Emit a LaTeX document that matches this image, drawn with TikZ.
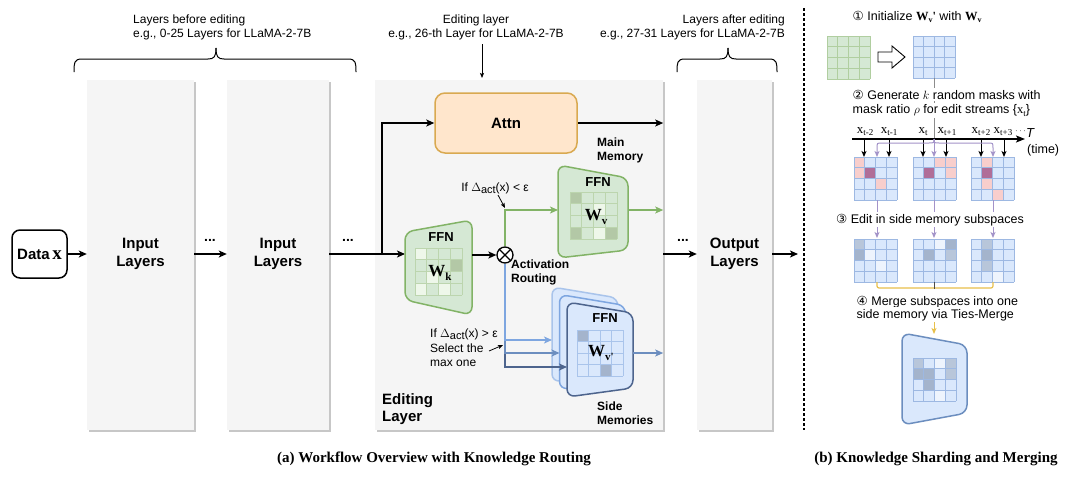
\documentclass[tikz,border=0pt]{standalone}
\usepackage{fontspec}
\setmainfont{Liberation Sans}
\newfontfamily\lserif{Liberation Serif}
\newfontfamily\dvs{DejaVu Sans}
\usetikzlibrary{arrows.meta,calc,shadows}

\definecolor{grfill}{HTML}{D5E8D4}
\definecolor{grline}{HTML}{82B366}
\definecolor{grgrid}{HTML}{BCD5AE}
\definecolor{blfill}{HTML}{DAE8FC}
\definecolor{blline}{HTML}{6C8EBF}
\definecolor{bllight}{HTML}{A9C4EB}
\definecolor{blmid}{HTML}{7EA6E0}
\definecolor{bldark}{HTML}{4D648D}
\definecolor{blgrid}{HTML}{9DB8E2}
\definecolor{orfill}{HTML}{FFE6CC}
\definecolor{orline}{HTML}{D9A950}
\definecolor{layfill}{HTML}{F5F5F5}
\definecolor{pinkc}{HTML}{F8CECC}
\definecolor{mauve}{HTML}{B06E98}
\definecolor{purp}{HTML}{A393C9}
\definecolor{yel}{HTML}{E8C04A}
\definecolor{gb1}{HTML}{A4B4CC}
\definecolor{gb2}{HTML}{B8C6DA}
\definecolor{gbw}{HTML}{EEF4FD}
\definecolor{gk1}{HTML}{B3C8A6}
\definecolor{gkw}{HTML}{EEF7EA}

\newcommand{\fs}[2]{\fontsize{#1}{#2}\selectfont}
\newcommand{\Wb}[2]{{\lserif\bfseries\fontsize{#1}{#1}\selectfont W\raisebox{-0.2em}{\fontsize{#2}{#2}\selectfont v}}}
\newcommand{\tsub}[1]{\raisebox{-2.5pt}{\fontsize{9}{9}\selectfont #1}}
% grid: x, y, size, base, line colour, cells c/r/colour
\newcommand{\mgrid}[6]{%
  \fill[#4] (#1,#2) rectangle ++(#3,#3);
  \foreach \cc/\rr/\cl in {#6}{%
    \fill[\cl] ({#1+\cc*#3/4},{#2+\rr*#3/4}) rectangle ++({#3/4},{#3/4});}
  \foreach \k in {0,...,4}{%
    \draw[#5, line width=0.7pt] ({#1+\k*#3/4},#2) -- ++(0,#3);
    \draw[#5, line width=0.7pt] (#1,{#2+\k*#3/4}) -- ++(#3,0);}
}
% trapezoid: style, TL, TR, BR, BL
\newcommand{\trapez}[5]{%
  \draw[#1] ($(#2)!0.5!(#5)$) -- (#5) -- (#4) -- (#3) -- (#2) -- cycle;}
% brace: left x, right x, tip x
\newcommand{\mybrace}[3]{%
  \draw[line width=1pt] (#1,72) .. controls (#1,63) and (#1,59) .. ({#1+8},59) -- ({#3-8},59) .. controls ({#3-2},59) and (#3,57) .. (#3,48);
  \draw[line width=1pt] (#2,72) .. controls (#2,63) and (#2,59) .. ({#2-8},59) -- ({#3+8},59) .. controls ({#3+2},59) and (#3,57) .. (#3,48);}

\tikzset{
  layerbox/.style={fill=layfill, inner sep=0, drop shadow={shadow xshift=1.6pt, shadow yshift=-1.6pt, fill=black!22, opacity=1}},
  arr/.style={line width=1.5pt, -{Stealth[length=8pt,width=7pt,inset=2pt]}},
  sarr/.style={line width=0.8pt, -{Stealth[length=5pt,width=4pt,inset=1pt]}},
  marr/.style={line width=1pt, -{Stealth[length=6pt,width=5pt,inset=1.5pt]}},
  toptxt/.style={inner sep=0, font=\fs{12}{14}},
  bigtxt/.style={inner sep=0, align=center, font=\fs{15}{18}\bfseries},
  lbl/.style={inner sep=0, align=left, font=\fs{12}{14}\bfseries},
  notetxt/.style={inner sep=0, align=left, font=\fs{12}{14.5}},
  rtxt/.style={inner sep=1.5pt, fill=white, font=\fs{12.5}{14}},
  tlab/.style={inner sep=0, font=\lserif\fs{13}{13}},
  dotstxt/.style={inner sep=0, font=\fs{14}{14}\bfseries},
  captxt/.style={inner sep=0, font=\lserif\fs{15}{17}\bfseries},
  ffntxt/.style={inner sep=0, font=\fs{13}{13}\bfseries},
  gtrap/.style={fill=grfill, draw=grline, line width=1.5pt, rounded corners=8pt},
  btrap/.style={fill=blfill, draw=#1, line width=1.5pt, rounded corners=8pt},
}

\begin{document}
\begin{tikzpicture}[x=1pt,y=-1pt]
\useasboundingbox (0,0) rectangle (1080,477);
\fill[white] (0,0) rectangle (1080,477);

% ---------- top annotations ----------
\node[toptxt, anchor=base west] (tl1) at (133,23.5) {Layers before editing};
\node[toptxt, anchor=base west] (tl2) at (133,37.5) {e.g., 0-25 Layers for LLaMA-2-7B};
\node[toptxt, anchor=base] (te1) at (476,23.5) {Editing layer};
\node[toptxt, anchor=base] (te2) at (476,37.5) {e.g., 26-th Layer for LLaMA-2-7B};
\node[toptxt, anchor=base east] (ta1) at (785,23.5) {Layers after editing};
\node[toptxt, anchor=base east] (ta2) at (785,37.5) {e.g., 27-31 Layers for LLaMA-2-7B};
\mybrace{74}{356}{216}
\mybrace{677}{777}{728}

% ---------- layer columns ----------
\node[layerbox, minimum width=107pt, minimum height=350pt] (in1) at (140.5,255) {};
\node[layerbox, minimum width=102pt, minimum height=350pt] (in2) at (278,255) {};
\node[layerbox, minimum width=288pt, minimum height=350pt] (edl) at (519,255) {};
\node[layerbox, minimum width=75pt, minimum height=350pt] (outl) at (734.5,255) {};
\coordinate (edtop) at (482,78);
\coordinate (edarr) at (482,44);
\draw[sarr] (edarr) -- (edtop);

\node[bigtxt] (in1t) at (140.5,254) {Input\\Layers};
\node[bigtxt] (in2t) at (278,254) {Input\\Layers};
\node[bigtxt] (outt) at (734.5,254) {Output\\Layers};

\node[draw, line width=1.5pt, rounded corners=8pt, minimum width=55pt, minimum height=48pt, inner sep=0] (datax) at (39.5,254)
  {\fs{15}{18}\bfseries Data\,{\lserif\fs{19}{19}x}};

\node[dotstxt] (d1) at (210,240) {...};
\node[dotstxt] (d2) at (348,240) {...};
\node[dotstxt] (d3) at (683,240) {...};

\coordinate (fork) at (382,254);
\coordinate (wkin) at (405,254);
\draw[arr] (datax.east) -- (in1.west |- datax.east);
\draw[arr] (in1.east |- datax.east) -- (in2.west |- datax.east);
\draw[line width=1.5pt] (in2.east |- datax.east) -- (fork);
\draw[arr] (fork) -- (wkin);
\draw[arr] (edl.east |- datax.east) -- (outl.west |- datax.east);
\coordinate (outend) at (798,254);
\draw[arr] (outl.east |- datax.east) -- (outend);

% ---------- Attn ----------
\node[draw=orline, fill=orfill, line width=1.5pt, rounded corners=10pt, minimum width=142pt, minimum height=60pt, inner sep=0,
  font=\fs{15}{15}\bfseries] (attn) at (506,123) {Attn};
\draw[arr] (fork) |- (attn.west);
\draw[arr] (attn.east) -- (attn.east -| edl.east);
\node[lbl, anchor=west] (mainmem) at (597,150) {Main\\Memory};

% ---------- FFN Wk ----------
\trapez{gtrap}{405,232}{472,220}{472,315}{405,300}
\mgrid{415}{248}{47}{grfill}{grgrid}{0/0/gkw, 3/1/gk1, 0/3/gkw, 2/3/gkw, 1/2/gkw}
\node[ffntxt] (ffnk) at (441,237) {FFN};
\node[inner sep=0] (wk) at (440,273) {{\lserif\bfseries\fs{17}{17}W\raisebox{-0.2em}{\fs{11}{11}k}}};

% ---------- routing ----------
\node[circle, draw, line width=1.3pt, minimum size=16pt, inner sep=0, fill=white] (ot) at (505,255) {};
\draw[line width=1.3pt] (ot.45) -- (ot.225) (ot.135) -- (ot.315);
\coordinate (wkout) at (472,255);
\draw[arr] (wkout) -- (ot.west);
\node[lbl, anchor=west] (actr) at (511,272) {Activation\\Routing};

% ---------- FFN Wv (main memory) ----------
\trapez{gtrap}{558,165}{628,178}{628,250}{558,258}
\mgrid{570}{192}{47}{grfill}{grgrid}{0/0/gk1, 2/1/gkw, 0/3/gk1, 2/3/gkw, 3/3/gk1}
\node[ffntxt] (ffnv) at (598,182) {FFN};
\node[inner sep=0] (wv) at (596,217) {{\lserif\bfseries\fs{17}{17}W\raisebox{-0.2em}{\fs{11}{11}v}}};
\coordinate (wvin) at (558,210);
\coordinate (wvout) at (628,210);
\draw[arr, grline] (ot.north) |- (wvin);
\draw[arr, grline] (wvout) -- (wvout -| edl.east);
\node[notetxt, anchor=base] (cond1) at (495,191) {If $\Delta$\raisebox{-2pt}{\fs{11}{11}act}(x) < ε};
\coordinate (c1a) at (498,195);
\coordinate (c1b) at (505,208);
\draw[sarr] (c1a) -- (c1b);

% ---------- side memories ----------
\trapez{btrap=bllight}{552,287}{618,298}{618,373}{552,382}
\trapez{btrap=blmid}{559.5,294.5}{625.5,305.5}{625.5,380.5}{559.5,389.5}
\trapez{btrap=bldark}{567,302}{633,313}{633,388}{567,397}
\mgrid{577}{330}{46}{blfill}{bllight}{0/0/gb1, 2/3/gb1}
\node[ffntxt] (ffns) at (605,318) {FFN};
\node[inner sep=0] (wvp) at (601,353) {{\lserif\bfseries\fs{17}{17}W\raisebox{-0.2em}{\fs{11}{11}v'}}};
\coordinate (s1in) at (552,340);
\coordinate (s2in) at (559.5,353);
\coordinate (s3in) at (567,367);
\draw[arr, bldark] (ot.south) |- (s3in);
\draw[arr, blline] (ot.south) |- (s2in);
\draw[arr, blmid] (ot.south) |- (s1in);
\coordinate (sout) at (633,353);
\draw[arr, blline] (sout) -- (sout -| edl.east);
\node[notetxt, anchor=west] (cond2) at (430,348) {If $\Delta$\raisebox{-2pt}{\fs{11}{11}act}(x) > ε\\Select the\\max one};
\coordinate (c2a) at (489,351);
\coordinate (c2b) at (503,345);
\draw[sarr] (c2a) -- (c2b);
\node[lbl, anchor=west] (sidemem) at (597,413) {Side\\Memories};
\node[inner sep=0, align=left, font=\fs{15}{17}\bfseries, anchor=west] (edlt) at (382,409) {Editing\\Layer};

% ---------- separator ----------
\coordinate (sepa) at (804,8);
\coordinate (sepb) at (804,430);
\draw[line width=1.2pt, dash pattern=on 3pt off 2pt] (sepa) -- (sepb);

% ---------- right panel ----------
\mgrid{827}{36}{43}{grfill}{grgrid!80!grline}{0/0/grfill}
\mgrid{913}{36}{42}{blfill}{blgrid}{0/0/blfill}
\draw[line width=0.9pt, fill=white] (878,52) -- (892,52) -- (892,46) -- (905,57) -- (892,68) -- (892,62) -- (878,62) -- cycle;
\coordinate (bgb) at (934,78);
\coordinate (tlc) at (934,139);
\draw[black!45, line width=0.8pt] (bgb) -- (tlc);
\node[rtxt, anchor=base west] (r1) at (851,20) {{\dvs ①} Initialize \Wb{12.5}{8}\raisebox{0pt}{\lserif\bfseries '} with \Wb{12.5}{8}};
\node[rtxt, anchor=base west] (r2) at (851,99) {{\dvs ②} Generate $k$ random masks with};
\node[rtxt, anchor=base west] (r3) at (851,113.5) {mask ratio $\rho$ for edit streams \{{\lserif x\tsub{t}}\}};

% timeline
\coordinate (tla) at (852,139);
\coordinate (tlb) at (1025,139);
\draw[line width=1.2pt, -{Stealth[length=9pt,width=7pt,inset=2pt]}] (tla) -- (tlb);
\node[inner sep=0, anchor=base west, font=\fs{13}{13}\itshape] (tT) at (1026,137) {T};
\node[inner sep=0, anchor=base west, font=\fs{12.5}{13}] (ttime) at (1027,153) {(time)};
\node[tlab, anchor=base] (xa) at (865,133) {x\tsub{t-2}};
\node[tlab, anchor=base] (xb) at (889,133) {x\tsub{t-1}};
\node[tlab, anchor=base] (xc) at (923,133) {x\tsub{t}};
\node[tlab, anchor=base] (xd) at (947,133) {x\tsub{t+1}};
\node[tlab, anchor=base] (xe) at (981,133) {x\tsub{t+2}};
\node[tlab, anchor=base] (xf) at (1003,133) {x\tsub{t+3}};
\node[inner sep=0, anchor=base west, font=\fs{9}{9}] (xg) at (1015,133) {$\cdots$};
\foreach \xx in {864,889,923,946,981,1004}{
  \draw[marr] (\xx,139) -- (\xx,157);}
% purple bracket
\draw[purp, marr] (tlc) .. controls (934,143) .. (929,143) -- (882,143) .. controls (877,143) .. (877,148) -- (877,157);
\draw[purp, marr] (tlc) .. controls (934,143) .. (939,143) -- (988,143) .. controls (993,143) .. (993,148) -- (993,157);
\draw[purp, marr] (tlc) -- (934,157);

% masked grids
\mgrid{854}{157}{43}{blfill}{blgrid}{0/0/pinkc, 0/1/pinkc, 1/1/mauve, 2/2/pinkc}
\mgrid{913}{157}{43}{blfill}{blgrid}{2/0/pinkc, 3/0/pinkc, 1/1/mauve, 3/1/pinkc}
\mgrid{971}{157}{43}{blfill}{blgrid}{1/0/pinkc, 1/1/mauve, 1/2/pinkc, 2/3/pinkc}
\foreach \xx in {877,934,993}{
  \draw[purp, marr] (\xx,200) -- (\xx,238);}
\node[rtxt, anchor=base] (r4) at (930,223) {{\dvs ③} Edit in side memory subspaces};

% edited grids
\mgrid{854}{239}{43}{blfill}{blgrid}{0/0/gb2, 0/1/gb1, 1/1/gbw, 2/2/gbw}
\mgrid{913}{239}{43}{blfill}{blgrid}{2/0/gbw, 3/0/gb1, 1/1/gb1, 3/1/gb2}
\mgrid{971}{239}{43}{blfill}{blgrid}{1/0/gb2, 1/1/gb1, 1/2/gb2, 2/3/gbw}
\draw[yel, line width=1.2pt, rounded corners=2pt] (877,282) -- (877,288) -- (993,288) -- (993,282);
\draw[black!70, line width=1pt] (934,282) -- (934,289);
\coordinate (ma) at (934,321);
\coordinate (mb) at (934,334);
\draw[yel, marr] (ma) -- (mb);
\node[rtxt, anchor=base west] (r5) at (855,305) {{\dvs ④} Merge subspaces into one};
\node[rtxt, anchor=base west] (r6) at (855,318) {side memory via Ties-Merge};

% merged memory
\trapez{btrap=blline}{902,333}{967,345}{967,413}{902,425}
\mgrid{913}{358}{43}{blfill}{blgrid}{0/0/gb2, 2/0/gbw, 3/0/gb2, 0/1/gb1, 1/1/gb1, 3/1/gb2, 1/2/gb1, 2/3/gbw}

% ---------- captions ----------
\node[captxt, anchor=base] (capa) at (434,462) {(a) Workflow Overview with Knowledge Routing};
\node[captxt, anchor=base] (capb) at (936,462) {(b) Knowledge Sharding and Merging};
\end{tikzpicture}
\end{document}
